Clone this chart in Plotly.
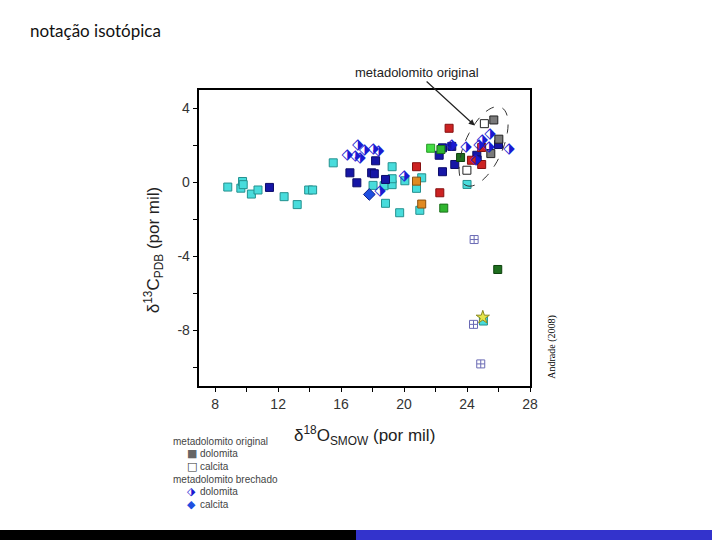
import numpy as np
import plotly.graph_objects as go

# valores: (d18O SMOW, d13C PDB)
ciano_x = [8.80, 9.63, 9.74, 9.78, 10.30, 10.72, 12.38, 13.21, 13.94, 14.19, 15.50, 18.03, 18.73,
           19.24, 19.24, 19.24, 18.82, 19.72, 20.05, 20.79, 21.12, 21.00, 24.00, 25.04]
ciano_y = [-0.25, -0.31, 0.05, -0.12, -0.63, -0.41, -0.77, -1.20, -0.41, -0.41, 1.06, -0.16, -0.18,
           -0.12, 0.20, 0.85, -1.13, -1.64, 0.09, -0.32, 0.25, -1.51, -0.11, -7.50]
azul_x = [11.45, 16.56, 17.00, 18.19, 17.94, 18.11, 18.82, 22.23, 22.44, 22.44, 23.22, 23.03, 24.62, 24.64, 26.00]
azul_y = [-0.27, 0.52, -0.02, 1.17, 0.52, 0.47, 0.16, 1.47, 1.87, 0.58, 0.97, 1.95, 1.47, 1.22, 2.05]
verm_x = [20.79, 22.27, 22.86, 24.28, 24.93, 24.93]
verm_y = [0.85, -0.56, 2.93, 1.20, 1.89, 0.97]
laranja_x = [20.79, 21.12]
laranja_y = [0.07, -1.17]
verde_claro_x = [21.69]
verde_claro_y = [1.85]
verde_x = [22.34, 22.52]
verde_y = [1.78, -1.39]
verde_esc_x = [23.59, 25.95]
verde_esc_y = [1.35, -4.71]
orig_dol_x = [25.70, 26.02, 25.51]
orig_dol_y = [3.38, 2.34, 1.56]
orig_cal_x = [25.10, 23.99]
orig_cal_y = [3.18, 0.66]
brech_dol_x = [16.39, 17.06, 17.48, 16.90, 17.20, 18.04, 18.38, 20.01, 18.48,
               23.03, 23.93, 24.76, 24.97, 25.46, 25.39, 24.57, 26.67]
brech_dol_y = [1.49, 2.00, 1.73, 1.40, 1.33, 1.78, 1.67, 0.36, -0.49,
               2.01, 1.89, 2.03, 2.27, 2.61, 1.90, 1.19, 1.80]
brech_cal_x = [17.79]
brech_cal_y = [-0.65]
lilas_x = [24.45, 24.41, 24.87]
lilas_y = [-3.09, -7.68, -9.82]
estrela_x = [25.0]
estrela_y = [-7.3]

y_ticks = [-8, -4, 0, 4]
y_labels = ['-8', '-4', '0', '4']

fig = go.Figure()


def quadrados(x, y, cor, borda, nome):
    fig.add_trace(go.Scatter(x=x, y=y, mode='markers', name=nome, showlegend=False,
                             marker=dict(symbol='square', size=8, color=cor,
                                         line=dict(color=borda, width=1))))


quadrados(ciano_x, ciano_y, '#48dcdc', '#24918f', 'ciano')
quadrados(azul_x, azul_y, '#1616a6', '#0c0c6a', 'azul')
quadrados(verm_x, verm_y, '#cc2222', '#861010', 'vermelho')
quadrados(laranja_x, laranja_y, '#e08a22', '#8a5010', 'laranja')
quadrados(verde_claro_x, verde_claro_y, '#44dd44', '#229922', 'verde claro')
quadrados(verde_x, verde_y, '#2fb52f', '#1a701a', 'verde')
quadrados(verde_esc_x, verde_esc_y, '#1e6e1e', '#0c400c', 'verde escuro')
quadrados(orig_dol_x, orig_dol_y, '#7a7a7a', '#222222', 'dolomita original')
quadrados(orig_cal_x, orig_cal_y, '#ffffff', '#222222', 'calcita original')

fig.add_trace(go.Scatter(x=brech_dol_x, y=brech_dol_y, mode='text', text=['⬗'] * len(brech_dol_x),
                         textfont=dict(family='DejaVu Sans', size=15, color='#1a1ad2'),
                         showlegend=False, name='dolomita brechado'))
fig.add_trace(go.Scatter(x=brech_cal_x, y=brech_cal_y, mode='markers', showlegend=False,
                         name='calcita brechado',
                         marker=dict(symbol='diamond', size=9, color='#1f4fe0',
                                     line=dict(color='#10208a', width=1))))
fig.add_trace(go.Scatter(x=lilas_x, y=lilas_y, mode='markers', showlegend=False, name='lilas',
                         marker=dict(symbol='square-cross-open', size=8, color='#6a6ab4',
                                     line=dict(width=1))))
fig.add_trace(go.Scatter(x=estrela_x, y=estrela_y, mode='markers', showlegend=False, name='estrela',
                         marker=dict(symbol='star', size=10, color='#e6e64a',
                                     line=dict(color='#8a8a20', width=1))))

# elipse tracejada em volta do metadolomito original (em pixels do gráfico)
sx, sy = 15.93, 18.53
t = np.linspace(0, 2 * np.pi, 60)
ux, uy = -0.414, 0.910
vx, vy = 0.910, 0.414
a, b = 43, 19
dx = a * np.cos(t) * ux + b * np.sin(t) * vx
dy = a * np.cos(t) * uy + b * np.sin(t) * vy
ex = 25.05 + dx / sx
ey = 1.95 - dy / sy
path = 'M' + 'L'.join(f'{px:.3f},{py:.3f}' for px, py in zip(ex, ey)) + 'Z'
fig.add_shape(type='path', path=path, xref='x', yref='y',
              line=dict(color='#333333', width=1, dash='dash'))

fig.add_annotation(x=24.49, y=3.08, ax=-58, ay=-53, text='metadolomito original',
                   showarrow=True, arrowhead=2, arrowsize=1, arrowwidth=1.2, arrowcolor='#222',
                   font=dict(family='Liberation Sans', size=13, color='#222'))

eixo = dict(showline=True, linecolor='black', linewidth=1.5, mirror=True, showgrid=False,
            zeroline=False, ticks='outside', ticklen=5, tickcolor='black', tickwidth=1.2,
            tickfont=dict(family='Liberation Sans', size=14, color='#333'))
fig.update_layout(
    width=720, height=540, autosize=False, margin=dict(l=0, r=0, t=0, b=0),
    paper_bgcolor='white', plot_bgcolor='white', showlegend=False,
    xaxis=dict(eixo, domain=[0.2801, 0.7444], range=[7, 28], tick0=8, dtick=4,
               minor=dict(tick0=8, dtick=2, ticks='outside', ticklen=5, tickcolor='black')),
    yaxis=dict(eixo, domain=[0.2857, 0.8333], range=[-11, 5], tickvals=y_ticks, ticktext=y_labels,
               minor=dict(tick0=0, dtick=2, ticks='outside', ticklen=5, tickcolor='black')),
    xaxis2=dict(overlaying='x', side='top', anchor='y', range=[7, 28], tick0=8, dtick=4,
                ticks='inside', ticklen=5, tickcolor='black', showticklabels=False,
                showgrid=False, zeroline=False,
                minor=dict(tick0=8, dtick=2, ticks='inside', ticklen=5, tickcolor='black')),
    yaxis2=dict(overlaying='y', side='right', anchor='x', range=[-11, 5], tick0=0, dtick=4,
                ticks='inside', ticklen=5, tickcolor='black', showticklabels=False,
                showgrid=False, zeroline=False,
                minor=dict(tick0=0, dtick=2, ticks='inside', ticklen=5, tickcolor='black')),
)

fig.add_annotation(xref='paper', yref='paper', x=369 / 720, y=1 - 435 / 540, showarrow=False,
                   yanchor='middle', text='δ<sup>18</sup>O<sub>SMOW</sub> (por mil)',
                   font=dict(family='Liberation Sans', size=17, color='#222'))
fig.add_annotation(xref='paper', yref='paper', x=155 / 720, y=1 - 250 / 540, showarrow=False,
                   xanchor='center', yanchor='middle',
                   textangle=-90, text='δ<sup>13</sup>C<sub>PDB</sub> (por mil)',
                   font=dict(family='Liberation Sans', size=17, color='#222'))

fig.add_annotation(xref='paper', yref='paper', x=28 / 720, y=1 - 30 / 540, xanchor='left',
                   yanchor='middle', showarrow=False, text='notação isotópica',
                   font=dict(family='Lato', size=17, color='#111'))
fig.add_annotation(xref='paper', yref='paper', x=558 / 720, y=1 - 347 / 540, showarrow=False,
                   xanchor='center', yanchor='middle',
                   textangle=-90, text='Andrade (2008)',
                   font=dict(family='Liberation Serif', size=10, color='black'))

# legenda desenhada à mão, como no original
leg_font = dict(family='Liberation Sans', size=10, color='#444')
linhas = [('metadolomito original', None, 173, 441), ('dolomita', ('■', '#666666'), 200, 453),
          ('calcita', ('□', '#333333'), 200, 466), ('metadolomito brechado', None, 173, 479),
          ('dolomita', ('⬗', '#1a1ad2'), 200, 491), ('calcita', ('◆', '#1f4fe0'), 200, 504)]
for texto, simbolo, px, py in linhas:
    fig.add_annotation(xref='paper', yref='paper', x=px / 720, y=1 - py / 540, xanchor='left',
                       yanchor='middle', showarrow=False, text=texto, font=leg_font)
    if simbolo:
        fig.add_annotation(xref='paper', yref='paper', x=187 / 720, y=1 - py / 540,
                           yanchor='middle', showarrow=False, text=simbolo[0],
                           font=dict(family='DejaVu Sans', size=11, color=simbolo[1]))

fig.add_shape(type='rect', xref='paper', yref='paper', x0=0, x1=0.5, y0=0, y1=10 / 540,
              fillcolor='black', line=dict(width=0))
fig.add_shape(type='rect', xref='paper', yref='paper', x0=0.5, x1=1, y0=0, y1=10 / 540,
              fillcolor='#3333cc', line=dict(width=0))

fig.write_html('out.html', config={'displayModeBar': False, 'responsive': False},
               post_script="document.body.style.margin='0';document.body.style.overflow='hidden';")
